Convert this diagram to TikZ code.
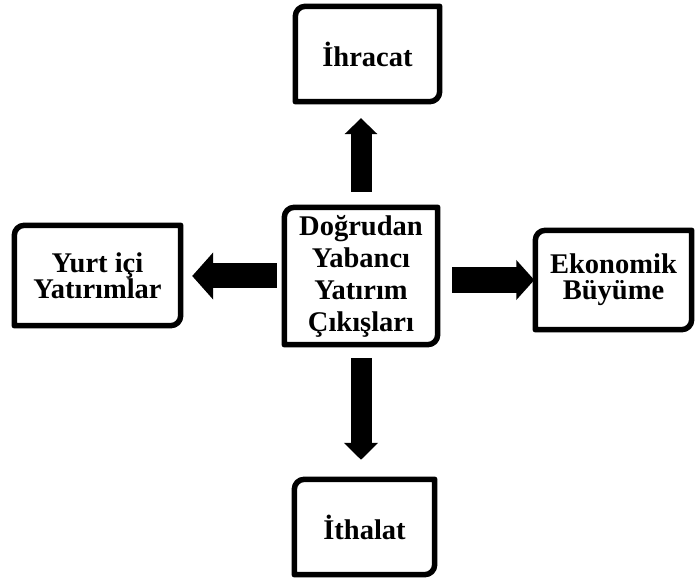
\documentclass[tikz,border=0pt]{standalone}
\usepackage{fontspec}
\setmainfont{Liberation Serif}
\usetikzlibrary{arrows.meta}

\begin{document}
\begin{tikzpicture}[x=1pt,y=1pt]
        \tikzstyle{every node}+=[inner sep=0pt]
        \tikzset{
            box/.style={align=center,font=\bfseries\fontsize{28.5}{26}\selectfont},
            frame/.style={black,line width=5.5pt,line join=round},
            bar/.style n args={3}{black,line width=#1,-{Triangle[width=#2,length=#3]}}
        }
        \useasboundingbox (0,0) rectangle (697,578);
        \node [box,minimum width=144pt,minimum height=95pt] (ihr) at (367.5,524) {İhracat};
        \node [box,minimum width=153pt,minimum height=137pt,font=\bfseries\fontsize{28.5}{32}\selectfont] (dyy) at (361,302) {Doğrudan\\Yabancı\\Yatırım\\Çıkışları};
        \node [box,minimum width=166pt,minimum height=100pt] (yur) at (97.5,302.5) {Yurt içi\\Yatırımlar};
        \node [box,minimum width=156pt,minimum height=99pt] (eko) at (613.5,298) {Ekonomik\\Büyüme};
        \node [box,minimum width=140pt,minimum height=95pt] (ith) at (364.5,51) {İthalat};
        \draw [frame] ([yshift=-10pt]ihr.north west) arc [start angle=180,end angle=90,radius=10pt] -- (ihr.north east) -- ([yshift=10pt]ihr.south east) arc [start angle=0,end angle=-90,radius=10pt] -- (ihr.south west) -- cycle;
        \draw [frame] ([yshift=-10pt]dyy.north west) arc [start angle=180,end angle=90,radius=10pt] -- (dyy.north east) -- ([yshift=10pt]dyy.south east) arc [start angle=0,end angle=-90,radius=10pt] -- (dyy.south west) -- cycle;
        \draw [frame] ([yshift=-10pt]yur.north west) arc [start angle=180,end angle=90,radius=10pt] -- (yur.north east) -- ([yshift=10pt]yur.south east) arc [start angle=0,end angle=-90,radius=10pt] -- (yur.south west) -- cycle;
        \draw [frame] ([yshift=-10pt]eko.north west) arc [start angle=180,end angle=90,radius=10pt] -- (eko.north east) -- ([yshift=10pt]eko.south east) arc [start angle=0,end angle=-90,radius=10pt] -- (eko.south west) -- cycle;
        \draw [frame] ([yshift=-10pt]ith.north west) arc [start angle=180,end angle=90,radius=10pt] -- (ith.north east) -- ([yshift=10pt]ith.south east) arc [start angle=0,end angle=-90,radius=10pt] -- (ith.south west) -- cycle;
        \draw [bar={21pt}{32pt}{16pt},shorten <=15.5pt,shorten >=16.5pt] (dyy.north) -- (dyy.north |- ihr.south);
        \draw [bar={21pt}{33pt}{17pt},shorten <=13.5pt,shorten >=19.5pt] (dyy.south) -- (dyy.south |- ith.north);
        \draw [bar={25pt}{46pt}{21pt},shorten <=7.5pt,shorten >=11.5pt] (dyy.west) -- (dyy.west -| yur.east);
        \draw [bar={26pt}{39pt}{18pt},shorten <=14.5pt,shorten >=1pt] (dyy.east |- eko.west) -- (eko.west);
    \end{tikzpicture}
\end{document}
